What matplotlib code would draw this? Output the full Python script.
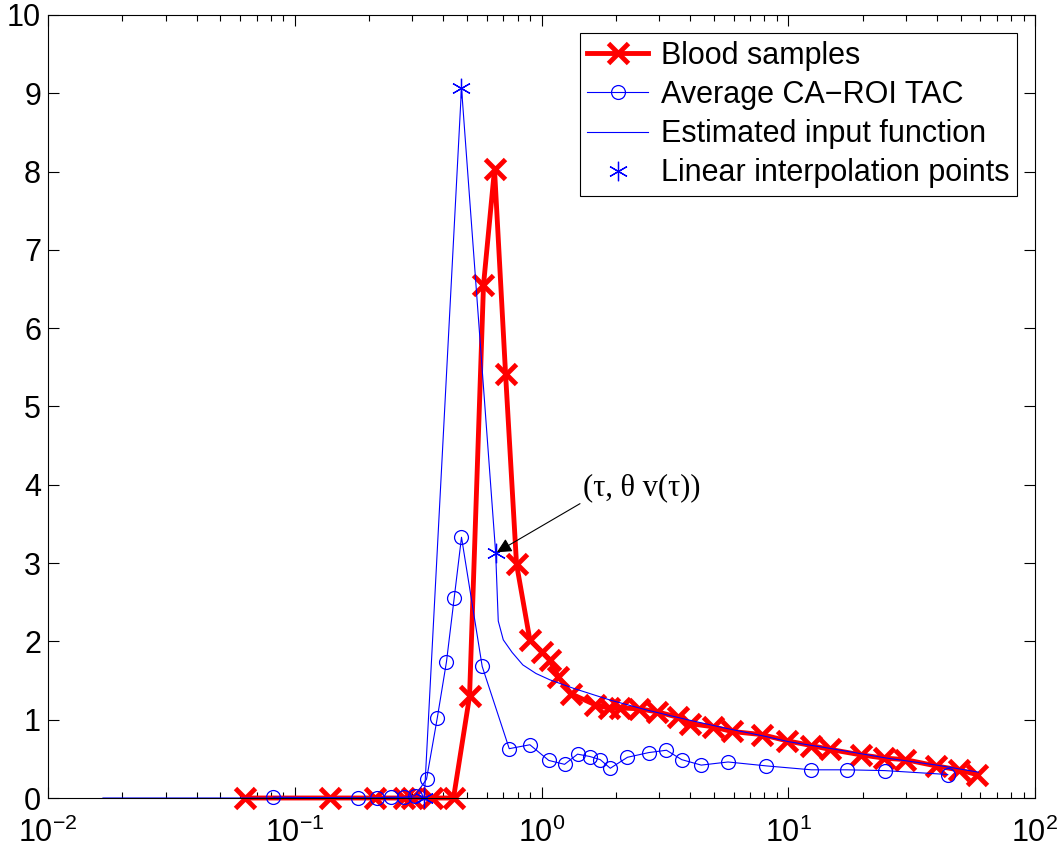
import matplotlib
matplotlib.use('Agg')
import matplotlib.pyplot as plt
from matplotlib.ticker import LogLocator, FixedLocator

plt.rcParams['font.family'] = ['Liberation Sans', 'DejaVu Sans']
plt.rcParams['mathtext.fontset'] = 'custom'
plt.rcParams['mathtext.rm'] = 'Liberation Sans'
plt.rcParams['mathtext.it'] = 'Liberation Sans:italic'

# blood samples (time in min, concentration)
blood_t = [0.063, 0.139, 0.211, 0.276, 0.298, 0.359, 0.440, 0.511, 0.582, 0.645,
           0.715, 0.792, 0.897, 1.00, 1.08, 1.17, 1.32, 1.65, 1.87, 2.08, 2.48,
           2.95, 3.58, 4.0, 4.95, 5.9, 7.8, 9.9, 12.4, 14.8, 19.8, 24.4, 29.8,
           39.7, 49.0, 58.0]
blood_c = [0, 0, 0, 0, 0, 0, 0, 1.30, 6.55, 8.03,
           5.42, 2.99, 2.02, 1.87, 1.76, 1.55, 1.33, 1.19, 1.15, 1.15, 1.14,
           1.10, 1.03, 0.95, 0.91, 0.85, 0.81, 0.73, 0.67, 0.62, 0.55, 0.51, 0.49,
           0.41, 0.36, 0.30]

# average CA-ROI TAC
roi_t = [0.082, 0.181, 0.215, 0.245, 0.277, 0.307, 0.342, 0.378, 0.412, 0.443,
         0.474, 0.575, 0.740, 0.897, 1.07, 1.24, 1.40, 1.57, 1.73, 1.90, 2.23,
         2.72, 3.21, 3.70, 4.44, 5.70, 8.15, 12.4, 17.3, 24.6, 44.3]
roi_c = [0.01, 0.0, 0.0, 0.01, 0.01, 0.03, 0.24, 1.02, 1.74, 2.56,
         3.33, 1.68, 0.63, 0.68, 0.48, 0.43, 0.56, 0.53, 0.49, 0.38, 0.52,
         0.58, 0.61, 0.49, 0.42, 0.46, 0.41, 0.36, 0.36, 0.35, 0.30]

# estimated input function
est_t = [0.0167, 0.335, 0.474, 0.652, 0.668, 0.70, 0.76, 0.84, 0.95, 1.08, 1.35,
         1.9, 2.7, 3.9, 5.6, 8.0, 10.0, 15.0, 25.0, 40.0, 59.0]
est_c = [0, 0, 9.07, 3.13, 2.26, 2.02, 1.86, 1.70, 1.59, 1.51, 1.40,
         1.25, 1.12, 1.0, 0.89, 0.79, 0.72, 0.63, 0.51, 0.42, 0.33]

# linear interpolation points
interp_t = [0.335, 0.474, 0.652]
interp_c = [0, 9.07, 3.13]

fs = 22

fig = plt.figure(figsize=(10.62, 8.48), dpi=100)
ax = fig.add_axes([48 / 1062, 1 - 798 / 848, (1035 - 48) / 1062, (798 - 15) / 848])

ax.plot(blood_t, blood_c, color='red', lw=3.5, marker='x', ms=14, mew=3.5,
        label='Blood samples', clip_on=False)
ax.plot(roi_t, roi_c, color='blue', lw=0.8, marker='o', ms=10, mfc='none',
        mew=0.9, label='Average CA\u2212ROI TAC', clip_on=False)
ax.plot(est_t, est_c, color='blue', lw=0.8, label='Estimated input function')
ax.plot(interp_t, interp_c, ls='none', color='blue', marker=(6, 2, 0), ms=14,
        mew=0.9, label='Linear interpolation points', clip_on=False)

ax.annotate('(\u03c4, \u03b8 v(\u03c4))', xy=(interp_t[2], interp_c[2]),
            xytext=(1.47, 3.78), ha='left', va='bottom', fontsize=fs,
            family='Liberation Serif',
            arrowprops=dict(arrowstyle='-|>', color='black', lw=0.8,
                            mutation_scale=22, relpos=(0, 0), shrinkA=0,
                            shrinkB=1))

ax.set_xscale('log')
ax.set_xlim(1e-2, 1e2)
ax.set_ylim(0, 10)
ax.xaxis.set_major_locator(FixedLocator([1e-2, 1e-1, 1e0, 1e1, 1e2]))
ax.set_xticklabels(['$10^{-2}$', '$10^{-1}$', '$10^{0}$', '$10^{1}$', '$10^{2}$'])
ax.xaxis.set_minor_locator(LogLocator(base=10, subs=range(2, 10)))
ax.set_yticks(range(0, 11))

ax.tick_params(which='both', direction='in', top=True, right=True,
               labelsize=fs, width=0.8)
ax.tick_params(which='major', length=8)
ax.tick_params(axis='x', which='major', pad=14)
ax.tick_params(axis='y', which='major', pad=5)
ax.tick_params(which='minor', length=4)
for s in ax.spines.values():
    s.set_linewidth(0.8)

leg = ax.legend(loc='upper right', fontsize=fs, fancybox=False, framealpha=1,
                edgecolor='black', handlelength=2.0, borderpad=0.25,
                labelspacing=0.3, handletextpad=0.4, borderaxespad=0.6)
leg.get_frame().set_linewidth(0.8)

fig.savefig('out.png', dpi=100)
